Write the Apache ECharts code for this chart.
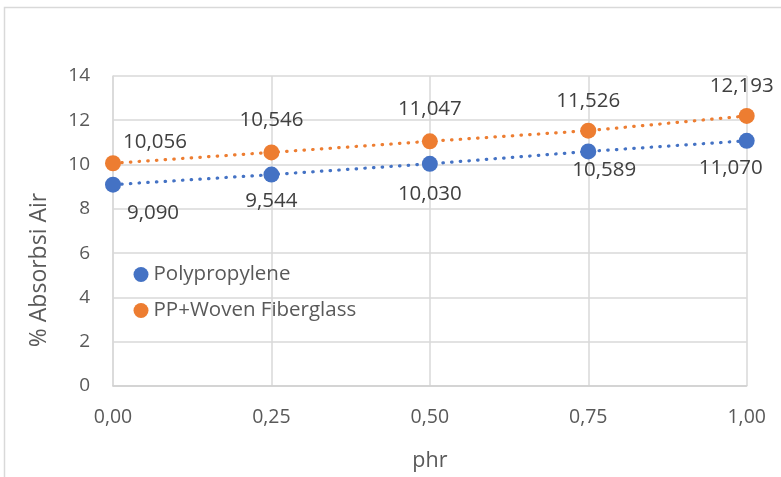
<!DOCTYPE html>
<html>
<head>
<meta charset="utf-8">
<script src="https://cdn.jsdelivr.net/npm/echarts@6/dist/echarts.min.js"></script>
<style>
  html, body { margin: 0; padding: 0; background: #fff; }
  #chart { width: 781px; height: 477px; }
</style>
</head>
<body>
<div id="chart"></div>
<script>
// phr loading and water absorption (%) for the two composites
const phr = [0, 0.25, 0.5, 0.75, 1.0];
const polypropylene = [9.090, 9.544, 10.030, 10.589, 11.070];
const ppWovenFiberglass = [10.056, 10.546, 11.047, 11.526, 12.193];
const seriesNames = ['Polypropylene', 'PP+Woven Fiberglass'];
const yTitle = '% Absorbsi Air';
const xTitle = 'phr';

// label nudges (px) relative to each marker
const ppLabelShift = [[40, 28], [0, 27], [0, 30], [16, 19], [-16, 27]];
const wfLabelShift = [[42, -21], [0, -32], [0, -32], [0, -30], [-5, -30]];

const FONT = 'Open Sans';
const comma = (v, d) => v.toFixed(d).replace('.', ',');

function buildData(values, shifts) {
  return phr.map((x, i) => ({
    value: [x, values[i]],
    label: { offset: shifts[i] }
  }));
}

const chart = echarts.init(document.getElementById('chart'), null, { renderer: 'canvas' });

const dotted = (color) => ({
  color: color,
  width: 3.2,
  type: [0.5, 8.2],
  cap: 'round'
});

const labelStyle = {
  show: true,
  position: 'inside',
  color: '#404040',
  fontFamily: FONT,
  fontSize: 20.5,
  formatter: (p) => comma(p.value[1], 3)
};

chart.setOption({
  animation: false,
  backgroundColor: '#fff',
  textStyle: { fontFamily: FONT },
  graphic: [
    {
      type: 'rect',
      shape: { x: 4.5, y: 7.5, width: 900, height: 600 },
      style: { fill: 'none', stroke: '#d9d9d9', lineWidth: 1.5 },
      silent: true
    },
    {
      type: 'text',
      x: 39, y: 270,
      rotation: Math.PI / 2,
      style: {
        text: yTitle,
        fill: '#595959',
        font: '23px "' + FONT + '"',
        textAlign: 'center',
        textVerticalAlign: 'middle'
      }
    }
  ],
  grid: { left: 113, right: 34.3, top: 75.9, bottom: 90.3, containLabel: false },
  legend: {
    orient: 'vertical',
    left: 128.5,
    top: 259,
    icon: 'circle',
    itemWidth: 15,
    itemHeight: 15,
    itemGap: 15,
    textStyle: { color: '#595959', fontFamily: FONT, fontSize: 20.5 },
    data: seriesNames
  },
  xAxis: {
    type: 'value',
    min: 0, max: 1, interval: 0.25,
    name: xTitle,
    nameLocation: 'middle',
    nameGap: 64,
    nameTextStyle: { color: '#595959', fontFamily: FONT, fontSize: 21.5 },
    axisLine: { show: true, lineStyle: { color: '#d0d0d0', width: 1.5 } },
    axisTick: { show: false },
    splitLine: { show: true, lineStyle: { color: '#d9d9d9', width: 1.5 } },
    axisLabel: {
      color: '#595959', fontFamily: FONT, fontSize: 19.5, margin: 21,
      formatter: (v) => comma(v, 2)
    }
  },
  yAxis: {
    type: 'value',
    min: 0, max: 14, interval: 2,
    axisLine: { show: true, lineStyle: { color: '#d9d9d9', width: 1.5 } },
    axisTick: { show: false },
    splitLine: { show: true, lineStyle: { color: '#d9d9d9', width: 1.5 } },
    axisLabel: { color: '#595959', fontFamily: FONT, fontSize: 19, margin: 23 }
  },
  series: [
    {
      name: seriesNames[0],
      type: 'line',
      data: buildData(polypropylene, ppLabelShift),
      symbol: 'circle',
      symbolSize: 16,
      itemStyle: { color: '#4472C4' },
      lineStyle: dotted('#4472C4'),
      label: labelStyle,
      z: 3
    },
    {
      name: seriesNames[1],
      type: 'line',
      data: buildData(ppWovenFiberglass, wfLabelShift),
      symbol: 'circle',
      symbolSize: 16,
      itemStyle: { color: '#ED7D31' },
      lineStyle: dotted('#ED7D31'),
      label: labelStyle,
      z: 3
    }
  ]
});
</script>
</body>
</html>
